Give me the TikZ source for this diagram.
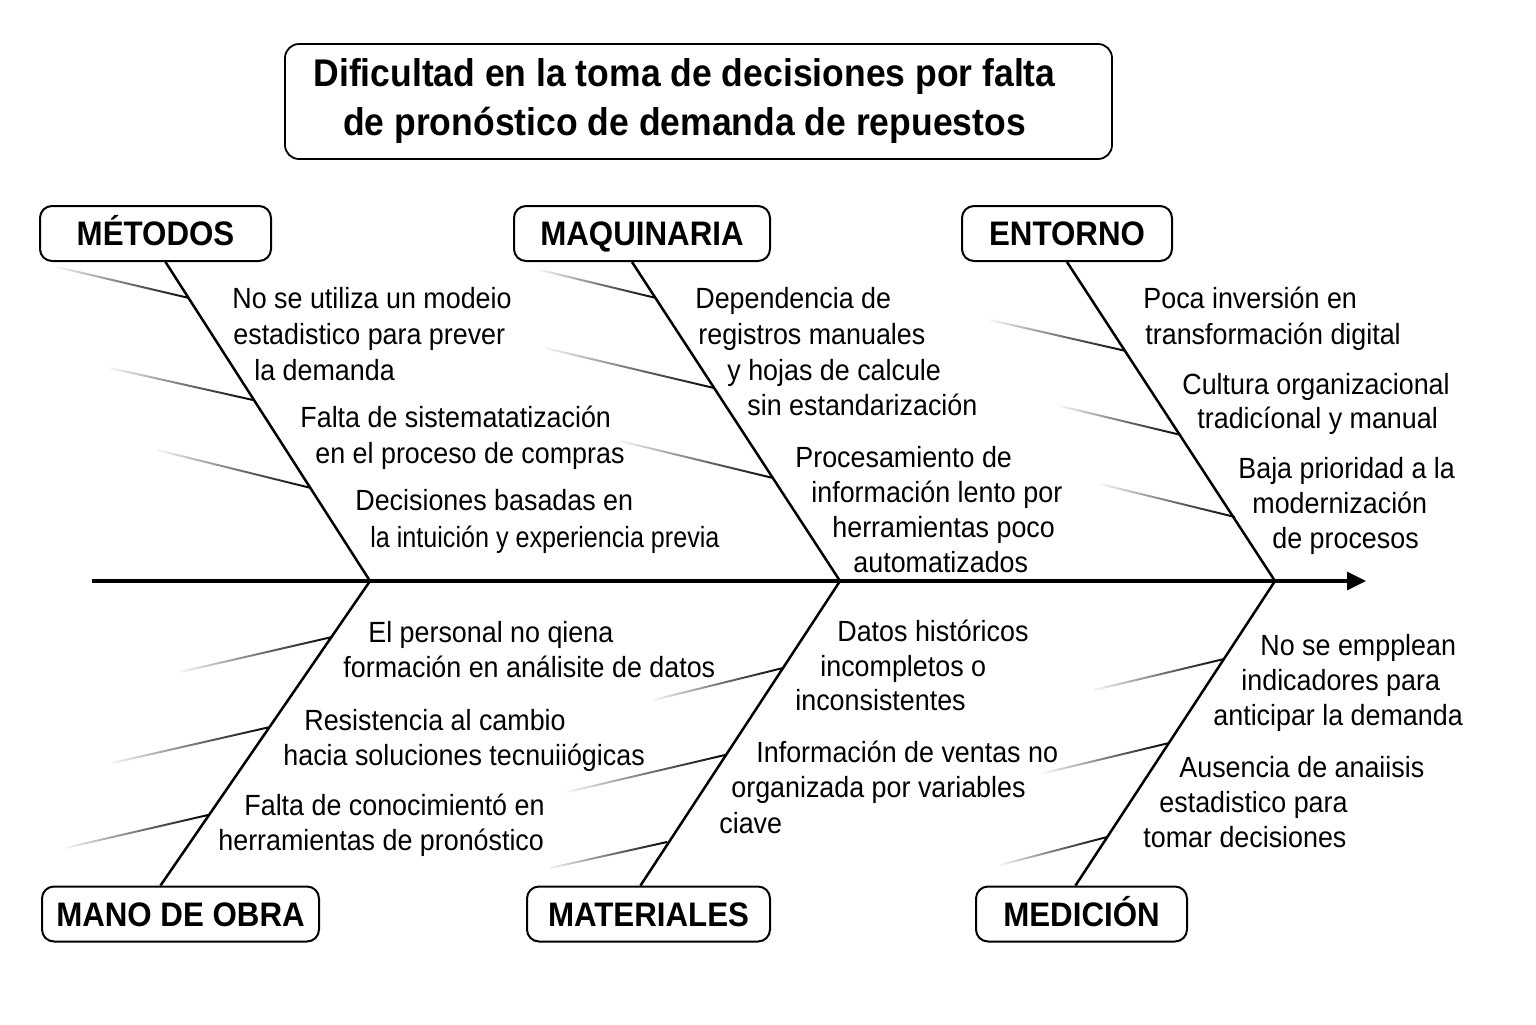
\documentclass[tikz,border=0pt]{standalone}
\usepackage{fontspec}
\setmainfont{Liberation Sans}[FakeStretch=0.92]
\usepackage{graphicx}
\usetikzlibrary{arrows.meta,calc}
\tikzset{
  bone/.style={line width=1.25pt},
  spine/.style={line width=1.6pt, -{Triangle[length=9.5pt,width=9pt]}},
  catbox/.style={draw, line width=1pt, rounded corners=6pt, minimum height=27.5pt,
    inner sep=0pt, text height=12.3pt, text depth=0pt,
    font=\fontsize{17}{20}\selectfont\bfseries},
  titlebox/.style={draw, line width=0.9pt, rounded corners=7pt, minimum width=413.5pt,
    minimum height=57.5pt, align=center, font=\fontsize{19.3}{24.5}\selectfont\bfseries},
  cause/.style={anchor=base west, inner sep=0pt, font=\fontsize{14.6}{17}\selectfont},
}
\newcommand\fadeln[2]{\shade[left color=black!4, middle color=black!90, right color=black]
  ($(#1)+(0,-1)$) -- ($(#2)+(0,-1)$) -- ($(#2)+(0,1)$) -- ($(#1)+(0,1)$) -- cycle;}
\begin{document}
\begin{tikzpicture}[x=0.5pt,y=-0.5pt]
\useasboundingbox (0,0) rectangle (1536,1024);
\fill[white] (0,0) rectangle (1536,1024);

% title
\node[titlebox] (title) at (698.5,101.5) {\hspace*{-14pt}Dificultad en la toma de decisiones por falta\\\hspace*{-14pt}de pronóstico de demanda de repuestos};

% category boxes
\node[catbox, minimum width=115.5pt] (metodos) at (155.5,233.5) {MÉTODOS};
\node[catbox, minimum width=128pt] (maquinaria) at (642,233.5) {MAQUINARIA};
\node[catbox, minimum width=105pt] (entorno) at (1067,233.5) {ENTORNO};
\node[catbox, minimum width=138.5pt] (manoobra) at (180.5,914) {MANO DE OBRA};
\node[catbox, minimum width=121.5pt] (materiales) at (648.5,914) {MATERIALES};
\node[catbox, minimum width=105.5pt] (medicion) at (1081.5,914) {MEDICIÓN};

% spine
\coordinate (tail) at (92,581);
\coordinate (head) at (1366,581);
\coordinate (j1) at (370,581);
\coordinate (j2) at (840,581);
\coordinate (j3) at (1275,581);
\draw[spine] (tail) -- (head);

% main bones
\draw[bone] ([xshift=5pt]metodos.south) -- (j1);
\draw[bone] ([xshift=-5pt]maquinaria.south) -- (j2);
\draw[bone] (entorno.south) -- (j3);
\draw[bone] ([xshift=-10pt]manoobra.north) -- (j1);
\draw[bone] ([xshift=-4pt]materiales.north) -- (j2);
\draw[bone] ([xshift=-3pt]medicion.north) -- (j3);

% sub-branch coordinates (far end f, bone end e)
\coordinate (fa1) at (57,267);   \coordinate (ea1) at (189,298);
\coordinate (fa2) at (110,368);  \coordinate (ea2) at (253,400);
\coordinate (fa3) at (157,450);  \coordinate (ea3) at (311,488);
\coordinate (fb1) at (540,270);  \coordinate (eb1) at (656,298);
\coordinate (fb2) at (545,348);  \coordinate (eb2) at (714,388);
\coordinate (fb3) at (620,441);  \coordinate (eb3) at (773,478);
\coordinate (fc1) at (990,320);  \coordinate (ec1) at (1126,351);
\coordinate (fc2) at (1060,406); \coordinate (ec2) at (1181,435);
\coordinate (fc3) at (1100,484); \coordinate (ec3) at (1235,517);
\coordinate (fd1) at (180,672);  \coordinate (ed1) at (332,637);
\coordinate (fd2) at (112,763);  \coordinate (ed2) at (270,727);
\coordinate (fd3) at (65,848);   \coordinate (ed3) at (208,815);
\coordinate (fe1) at (653,700);  \coordinate (ee1) at (783,668);
\coordinate (fe2) at (567,792);  \coordinate (ee2) at (725,755);
\coordinate (fe3) at (550,868);  \coordinate (ee3) at (667,842);
\coordinate (ff1) at (1094,690); \coordinate (ef1) at (1224,659);
\coordinate (ff2) at (1044,773); \coordinate (ef2) at (1169,743);
\coordinate (ff3) at (1000,865); \coordinate (ef3) at (1107,837);
\foreach \k in {a,b,c,d,e,f}{\foreach \n in {1,2,3}{\fadeln{f\k\n}{e\k\n}}}

% cause texts
\foreach \x/\y/\t [count=\i] in {
  232/308/No se utiliza un modeio,
  233/344/estadistico para prever,
  254/380/la demanda,
  300/427/Falta de sistematatización,
  315/463/en el proceso de compras,
  355/510/Decisiones basadas en,
  370/547/{\scalebox{0.935}[1]{la intuición y experiencia previa}},
  695/308/Dependencia de,
  698/344/registros manuales,
  727/380/y hojas de calcule,
  747/415/sin estandarización,
  795/467/Procesamiento de,
  811/502/información lento por,
  832/537/herramientas poco,
  853/572/automatizados,
  1143/308/Poca inversión en,
  1145/344/transformación digital,
  1182/394/Cultura organizacional,
  1197/428/tradicíonal y manual,
  1238/478/Baja prioridad a la,
  1252/513/modernización,
  1272/548/de procesos,
  368/642/El personal no qiena,
  343/677/formación en análisite de datos,
  304/730/Resistencia al cambio,
  283/765/hacia soluciones tecnuiiógicas,
  244/815/Falta de conocimientó en,
  218/850/herramientas de pronóstico,
  837/641/Datos históricos,
  820/676/incompletos o,
  795/710/inconsistentes,
  756/762/Información de ventas no,
  731/797/organizada por variables,
  719/833/ciave,
  1260/655/No se empplean,
  1241/690/indicadores para,
  1213/725/anticipar la demanda,
  1179/777/Ausencia de anaiisis,
  1159/812/estadistico para,
  1143/847/tomar decisiones}
  {\node[cause] (c\i) at (\x,\y) {\t};}
\end{tikzpicture}
\end{document}
